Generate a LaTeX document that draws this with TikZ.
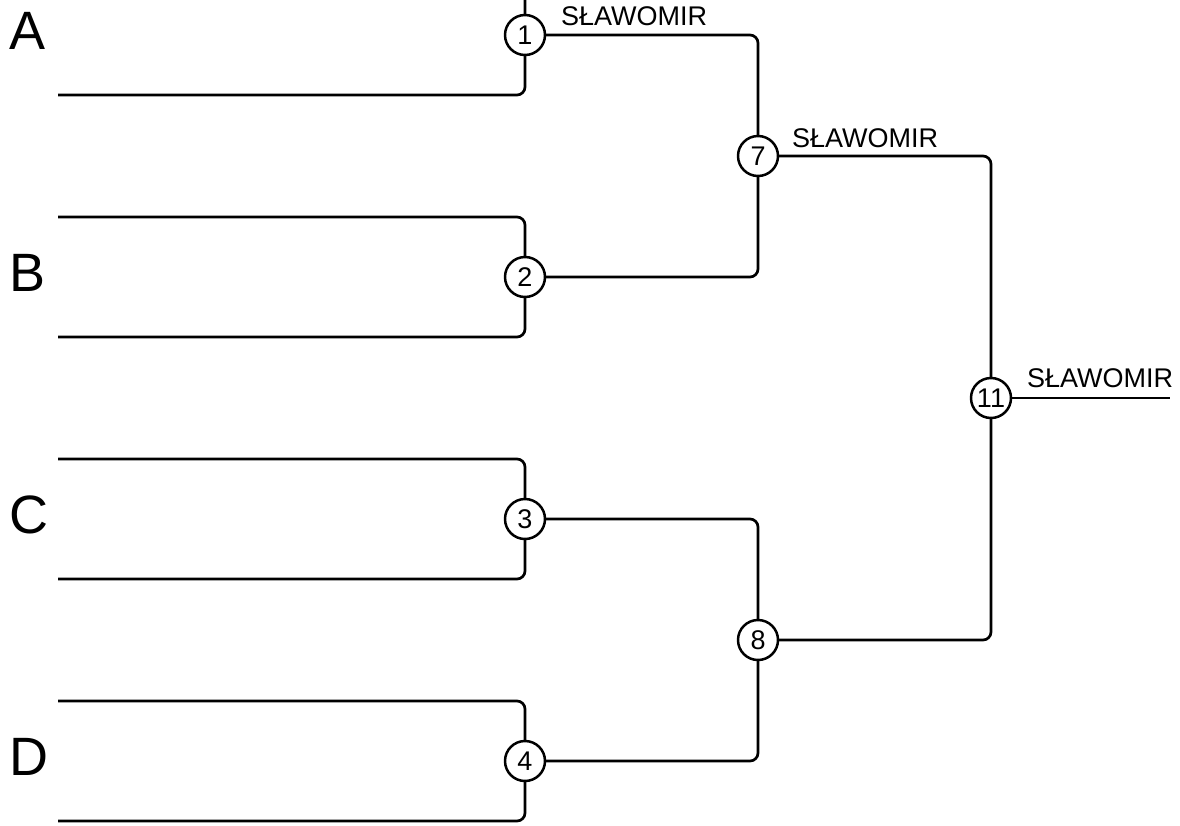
\documentclass[tikz,border=0pt]{standalone}
\usepackage{fontspec}
\setmainfont{Liberation Sans}
\begin{document}
\begin{tikzpicture}[x=1pt,y=-1pt,
  ln/.style={line width=2.7pt, rounded corners=8pt},
  match/.style={circle, draw, line width=2.5pt, fill=white, minimum size=40pt, inner sep=0pt, font=\fontsize{27}{30}\selectfont},
  winner/.style={anchor=base west, inner sep=0pt, font=\fontsize{27}{30}\selectfont},
  group/.style={anchor=base west, inner sep=0pt, font=\fontsize{54}{60}\selectfont}]
\useasboundingbox (0,0) rectangle (1180,825);
% coordinates
\coordinate (a1) at (525,0);
\coordinate (a2) at (58,95);
\coordinate (b1) at (58,217);
\coordinate (b2) at (58,337);
\coordinate (c1) at (58,459);
\coordinate (c2) at (58,579);
\coordinate (d1) at (58,701);
\coordinate (d2) at (58,821);
\coordinate (fin) at (1170,398);
% lines first
\path (525,35) coordinate (p1) (525,277) coordinate (p2) (525,519) coordinate (p3) (525,761) coordinate (p4)
      (758,156) coordinate (p7) (758,640) coordinate (p8) (991,398) coordinate (p11);
\draw[ln] (a1) -- (p1) |- (a2);
\draw[ln] (b1) -| (p2) |- (b2);
\draw[ln] (c1) -| (p3) |- (c2);
\draw[ln] (d1) -| (p4) |- (d2);
\draw[ln] (p1) -| (p7) |- (p2);
\draw[ln] (p3) -| (p8) |- (p4);
\draw[ln] (p7) -| (p11) |- (p8);
\draw[ln] (p11) -- (fin);
% match nodes
\node[match] (m1) at (p1) {1};
\node[match] (m2) at (p2) {2};
\node[match] (m3) at (p3) {3};
\node[match] (m4) at (p4) {4};
\node[match] (m7) at (p7) {7};
\node[match] (m8) at (p8) {8};
\node[match] (m11) at (p11) {11};
% winner labels
\node[winner] (w1) at (561,25) {SŁAWOMIR};
\node[winner] (w7) at (792,147) {SŁAWOMIR};
\node[winner] (w11) at (1027,387) {SŁAWOMIR};
% group letters
\node[group] (gA) at (9,49) {A};
\node[group] (gB) at (9,291) {B};
\node[group] (gC) at (9,533) {C};
\node[group] (gD) at (9,775) {D};
\end{tikzpicture}
\end{document}
